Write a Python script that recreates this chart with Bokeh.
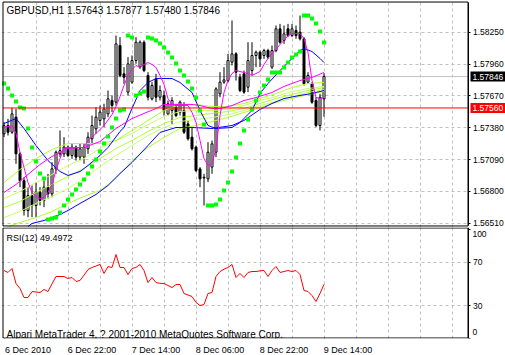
from bokeh.plotting import figure
from bokeh.layouts import column
from bokeh.models import Range1d, FixedTicker, NumeralTickFormatter, Label, Grid, LinearAxis
from bokeh.embed import file_html
from bokeh.resources import INLINE

FONT = "Liberation Sans"

opens = [1.57324,1.57400,1.57339,1.57476,1.57142,1.56899,1.56626,1.56762,1.56671,1.56793,
1.56717,1.56838,1.56778,1.57005,1.57142,1.57142,1.57203,1.57127,1.57203,1.57112,
1.57112,1.57188,1.57279,1.57370,1.57446,1.57461,1.57506,1.57628,1.57613,1.58129,
1.57871,1.57704,1.57795,1.57992,1.57932,1.58159,1.57856,1.57643,1.57825,1.57658,
1.57673,1.57506,1.57537,1.57567,1.57522,1.57537,1.57415,1.57294,1.57203,1.57005,
1.56929,1.56914,1.57021,1.57157,1.57689,1.57795,1.57810,1.57977,1.58053,1.57840,
1.57871,1.57749,1.57901,1.58038,1.58068,1.58038,1.58083,1.57932,1.58083,1.58281,
1.58175,1.58281,1.58220,1.58266,1.58250,1.58190,1.57795,1.57780,1.57628,1.57400,
1.57643]
highs = [1.57431,1.57461,1.57561,1.57552,1.57157,1.56929,1.56838,1.56854,1.56884,1.56838,
1.56899,1.56960,1.57066,1.57172,1.57355,1.57294,1.57218,1.57233,1.57218,1.57233,
1.57233,1.57339,1.57491,1.57567,1.57582,1.57598,1.57719,1.57673,1.58220,1.58205,
1.57932,1.58023,1.58038,1.58205,1.58175,1.58175,1.57886,1.57795,1.57871,1.57765,
1.57719,1.57628,1.57658,1.57598,1.57628,1.57613,1.57446,1.57385,1.57218,1.57021,
1.56960,1.57248,1.57263,1.57749,1.57886,1.57932,1.58053,1.58357,1.58068,1.57871,
1.57901,1.58159,1.58159,1.58083,1.58083,1.58099,1.58099,1.58129,1.58311,1.58326,
1.58311,1.58326,1.58326,1.58311,1.58402,1.58205,1.57886,1.57795,1.57658,1.57689,
1.57877]
lows = [1.57294,1.57309,1.57324,1.57051,1.56838,1.56580,1.56565,1.56565,1.56565,1.56671,
1.56656,1.56732,1.56747,1.56960,1.57112,1.57112,1.57112,1.57096,1.57081,1.57081,
1.57051,1.57142,1.57233,1.57324,1.57400,1.57385,1.57476,1.57522,1.57582,1.57840,
1.57780,1.57673,1.57780,1.57962,1.57916,1.57886,1.57628,1.57628,1.57613,1.57628,
1.57491,1.57491,1.57415,1.57476,1.57491,1.57324,1.57263,1.57172,1.56975,1.56838,
1.56671,1.56884,1.56960,1.57112,1.57658,1.57780,1.57795,1.57947,1.57810,1.57704,
1.57689,1.57704,1.57856,1.57932,1.57932,1.58007,1.58007,1.57916,1.58068,1.58144,
1.58144,1.58205,1.58205,1.58190,1.58175,1.57765,1.57780,1.57598,1.57385,1.57355,
1.57480]
closes = [1.57400,1.57339,1.57506,1.57142,1.56899,1.56626,1.56762,1.56671,1.56793,1.56717,
1.56838,1.56778,1.57005,1.57157,1.57172,1.57203,1.57127,1.57203,1.57112,1.57188,
1.57203,1.57294,1.57400,1.57476,1.57522,1.57552,1.57643,1.57582,1.58144,1.57856,
1.57840,1.57962,1.57992,1.58159,1.58159,1.57901,1.57658,1.57765,1.57658,1.57719,
1.57537,1.57598,1.57628,1.57491,1.57613,1.57339,1.57279,1.57188,1.56990,1.56914,
1.56923,1.57157,1.57233,1.57734,1.57795,1.57816,1.57992,1.58053,1.57886,1.57719,
1.57704,1.57992,1.58038,1.58068,1.58007,1.58083,1.58023,1.58083,1.58281,1.58159,
1.58235,1.58220,1.58281,1.58220,1.58190,1.57780,1.57856,1.57613,1.57400,1.57658,
1.57846]

ma_fast_idx = [0,2,3,4,5,6,7,8,9,10,11,12,13,14,15,16,18,20,21,23,25,27,28,29,30,31,32,33,34,35,
36,37,38,39,40,41,42,43,45,46,47,48,49,50,51,52,53,54,55,56,57,58,59,60,61,62,63,64,65,66,
67,68,69,70,71,72,73,74,75,76,77,78,79,80]
ma_fast = [1.57382,1.57400,1.57327,1.57154,1.57018,1.56881,1.56790,1.56753,1.56735,1.56744,
1.56790,1.56863,1.56990,1.57099,1.57191,1.57200,1.57200,1.57200,1.57264,1.57327,
1.57400,1.57500,1.57573,1.57664,1.57765,1.57856,1.57910,1.57947,1.57929,1.57956,
1.57974,1.57956,1.57929,1.57856,1.57774,1.57646,1.57592,1.57582,1.57582,1.57582,
1.57519,1.57428,1.57264,1.57099,1.57036,1.57054,1.57191,1.57492,1.57701,1.57810,
1.57874,1.57901,1.57892,1.57883,1.57874,1.57856,1.57874,1.57892,1.57956,1.58011,
1.58056,1.58093,1.58138,1.58175,1.58220,1.58238,1.58238,1.58238,1.58193,1.58065,
1.57810,1.57655,1.57646,1.57655]

ma_mid_idx = [0,3,6,9,12,16,20,24,28,32,35,38,40,43,47,49,52,54,57,60,63,67,70,74,77,80]
ma_mid = [1.56790,1.56863,1.56954,1.57045,1.57118,1.57191,1.57200,1.57254,1.57373,1.57464,
1.57510,1.57555,1.57592,1.57592,1.57592,1.57582,1.57555,1.57555,1.57582,1.57628,
1.57655,1.57701,1.57756,1.57810,1.57838,1.57883]

blue1_idx = [0,3,5,8,11,14,16,19,21,24,26,29,30,32,34,36,38,42,44,47,49,51,53,57,59,62,64,66,69,71,74,75,77,79,80]
blue1 = [1.57418,1.57464,1.57373,1.57218,1.57081,1.56981,1.56945,1.56981,1.57036,1.57127,
1.57200,1.57346,1.57382,1.57555,1.57719,1.57792,1.57828,1.57828,1.57792,1.57701,
1.57537,1.57400,1.57373,1.57382,1.57428,1.57537,1.57692,1.57783,1.57901,1.57974,
1.58084,1.58102,1.58074,1.58011,1.57974]

blue2_idx = [6,7,10,14,16,19,23,26,29,32,36,39,43,47,52,57,60,64,67,70,74,77,80]
blue2 = [1.56480,1.56508,1.56535,1.56590,1.56626,1.56690,1.56772,1.56854,1.56963,1.57063,
1.57218,1.57337,1.57382,1.57382,1.57373,1.57400,1.57446,1.57546,1.57601,1.57646,
1.57674,1.57692,1.57719]

green_idx = [0,4,8,12,16,20,24,28,32,36,40,44,48,52,56,60,64,68,72,76,80]
green_a = [1.56881,1.56999,1.57099,1.57182,1.57236,1.57236,1.57236,1.57264,1.57355,1.57446,
1.57537,1.57592,1.57592,1.57573,1.57573,1.57601,1.57646,1.57692,1.57746,1.57783,1.57792]
green_b = [1.56735,1.56799,1.56881,1.56954,1.57036,1.57099,1.57191,1.57264,1.57327,1.57409,
1.57482,1.57528,1.57537,1.57537,1.57546,1.57582,1.57628,1.57664,1.57710,1.57737,1.57756]
green_c = [1.56653,1.56708,1.56790,1.56863,1.56936,1.57008,1.57099,1.57191,1.57264,1.57346,
1.57418,1.57473,1.57492,1.57510,1.57528,1.57555,1.57601,1.57646,1.57683,1.57719,1.57746]
green_d = [1.56562,1.56617,1.56690,1.56754,1.56826,1.56917,1.57027,1.57127,1.57218,1.57309,
1.57382,1.57437,1.57455,1.57473,1.57500,1.57537,1.57582,1.57619,1.57664,1.57701,1.57728]
green_e = [1.56462,1.56517,1.56562,1.56617,1.56690,1.56754,1.56808,1.56917,1.57081,1.57200,
1.57291,1.57373,1.57400,1.57437,1.57473,1.57519,1.57564,1.57610,1.57646,1.57683,1.57710]

sar = [1.57783,1.57737,1.57674,1.57619,1.57564,1.57555,1.57373,1.57200,1.57072,1.56963,
1.56917,1.56544,1.56553,1.56562,1.56608,1.56671,1.56726,1.56772,1.56817,1.56863,
1.56908,1.56963,1.57026,1.57090,1.57163,1.57236,1.57300,1.57382,1.57464,1.57537,
1.57546,1.58220,1.58202,1.57674,1.57692,1.57710,1.58202,1.58193,1.58175,1.58147,
1.58111,1.58065,1.58020,1.57965,1.57901,1.57856,1.57801,1.57737,1.57655,1.57537,
1.57409,1.56671,1.56671,1.56681,1.56726,1.56808,1.56881,1.56981,1.57109,1.57236,
1.57355,1.57455,1.57546,1.57628,1.57701,1.57765,1.57819,1.57883,1.57883,1.57883,
1.57929,1.57974,1.58020,1.58047,1.58074,1.58402,1.58402,1.58375,1.58329,1.58257,
1.58156]

rsi = [62.3,60.5,64.2,50.3,45.7,37.4,37.4,42.9,42.5,42.0,
44.8,42.9,50.0,56.8,56.8,56.8,54.9,55.9,52.2,53.1,
58.0,63.2,65.1,66.5,67.9,59.6,66.0,65.1,77.1,65.1,
65.1,58.6,64.2,65.1,67.9,62.3,51.2,55.9,51.2,50.5,
50.3,48.5,46.6,49.4,49.4,41.1,39.7,38.3,32.8,30.0,
30.9,41.1,42.0,56.8,61.4,63.5,65.1,67.9,55.9,59.6,
55.9,60.5,61.4,61.4,62.0,62.3,56.8,62.3,66.0,60.5,
61.4,62.3,61.4,62.3,58.6,43.9,42.9,39.2,33.7,41.1,
49.4972]

price_ticks = [1.56510, 1.56800, 1.57090, 1.57380, 1.57670, 1.57960, 1.58250]
bid_price = 1.57846
hline_price = 1.57560
title_text = "GBPUSD,H1  1.57643 1.57877 1.57480 1.57846"
rsi_title = "RSI(12) 49.4972"
copyright_text = "Alpari MetaTrader 4, ? 2001-2010 MetaQuotes Software Corp."
time_ticks = [0, 16, 32, 48, 64, 80]
time_labels = ["6 Dec 2010", "6 Dec 22:00", "7 Dec 14:00", "8 Dec 06:00", "8 Dec 22:00", "9 Dec 14:00"]
vgrid_ticks = list(range(8, 116, 8))
rsi_ticks = [0, 30, 70, 100]

idx = list(range(len(opens)))
up = [i for i in idx if closes[i] >= opens[i]]
dn = [i for i in idx if closes[i] < opens[i]]

# layout constants (pixel geometry of the MT4 window)
X0, X1 = -0.625, 125.375      # frame spans the whole window width
XB_L, XB_R = -0.25, 116.0     # panel borders (left, right/price scale)
XLAB = 116.625                # start of price scale text
P_LO, P_HI = 1.56471, 1.58539
P_BOT, P_TOP = 1.56485, 1.58525
R_LO, R_HI = -0.46, 102.03
R_TOP = 101.57
LABEL_SHIFT = 6               # time labels start at their tick

GRID = "#c0c0c0"
DASH = "3 3"


def style_axis(ax, size="8.5px"):
    ax.major_tick_in = 0
    ax.major_tick_out = 2
    ax.minor_tick_in = 0
    ax.minor_tick_out = 0
    ax.axis_line_color = "black"
    ax.major_tick_line_color = "black"
    ax.major_label_text_font = FONT
    ax.major_label_text_font_size = size
    ax.major_label_text_color = "black"
    ax.major_label_standoff = 3


xr = Range1d(X0, X1)

# ---------------- main price panel ----------------
p = figure(frame_width=504, frame_height=227, x_range=xr, y_range=Range1d(P_LO, P_HI),
           output_backend="svg", toolbar_location=None, x_axis_location=None,
           y_axis_location="right", min_border_left=1, min_border_right=0,
           min_border_top=0, min_border_bottom=0, outline_line_color=None,
           background_fill_color="white", border_fill_color="white")
p.yaxis.ticker = FixedTicker(ticks=price_ticks)
p.yaxis.formatter = NumeralTickFormatter(format="0.00000")
p.yaxis.fixed_location = XB_R
p.yaxis.bounds = (P_BOT, P_TOP)
style_axis(p.yaxis[0])
p.ygrid.ticker = FixedTicker(ticks=price_ticks)
p.ygrid.grid_line_color = GRID
p.ygrid.grid_line_dash = DASH
p.xgrid.grid_line_color = None
p.add_layout(Grid(dimension=0, ticker=FixedTicker(ticks=vgrid_ticks),
                  grid_line_color=GRID, grid_line_dash=DASH))

# blank price-scale area
p.quad(left=XB_R + 0.125, right=X1, bottom=P_LO, top=P_HI, fill_color="white", line_color=None)

p.segment(x0=XB_L, x1=XB_R, y0=bid_price, y1=bid_price, line_color="#c0c0c0", line_width=1)

p.segment(x0=idx, y0=lows, x1=idx, y1=highs, line_color="black", line_width=1)
p.vbar(x=up, width=0.5, bottom=[opens[i] for i in up], top=[closes[i] for i in up],
       fill_color="white", line_color="black", line_width=1)
p.vbar(x=dn, width=0.5, bottom=[closes[i] for i in dn], top=[opens[i] for i in dn],
       fill_color="black", line_color="black", line_width=1)

for ys, col in [(green_e, "#adff2f"), (green_d, "#c8ff64"), (green_c, "#adff2f"),
                (green_b, "#c8ff64"), (green_a, "#adff2f")]:
    p.line(green_idx, ys, line_color=col, line_width=1)
p.line(blue2_idx, blue2, line_color="#0000ff", line_width=1)
p.line(blue1_idx, blue1, line_color="#0000ff", line_width=1)
p.line(ma_mid_idx, ma_mid, line_color="#ff00ff", line_width=1)
p.line(ma_fast_idx, ma_fast, line_color="#ff00ff", line_width=1)
p.scatter(idx, sar, marker="square", size=4, fill_color="#00ff00", line_color=None)

p.segment(x0=XB_L, x1=XB_R, y0=hline_price, y1=hline_price, line_color="#ff0000", line_width=1)

p.quad(left=XB_L, right=XB_R, bottom=P_BOT, top=P_TOP, fill_color=None,
       line_color="black", line_width=1)

p.add_layout(Label(x=5, y=222.5, x_units="screen", y_units="screen", text=title_text,
                   text_font=FONT, text_font_size="10px", text_color="black", text_baseline="top"))
p.add_layout(Label(x=XLAB, y=bid_price, text="1.57846", text_font=FONT,
                   text_font_size="8.5px", text_color="white", text_baseline="middle",
                   background_fill_color="black", padding=2))
p.add_layout(Label(x=XLAB, y=hline_price, text="1.57560", text_font=FONT,
                   text_font_size="8.5px", text_color="white", text_baseline="middle",
                   background_fill_color="#ff0000", padding=2))

# ---------------- RSI panel ----------------
r = figure(frame_width=504, frame_height=111, x_range=xr, y_range=Range1d(R_LO, R_HI),
           output_backend="svg", toolbar_location=None, y_axis_location="right",
           min_border_left=1, min_border_right=0, min_border_top=0, min_border_bottom=0,
           outline_line_color=None, background_fill_color="white", border_fill_color="white")
r.yaxis.ticker = FixedTicker(ticks=rsi_ticks)
r.yaxis.major_label_overrides = {0: "", 100: ""}
r.yaxis.fixed_location = XB_R
r.yaxis.bounds = (0, R_TOP)
style_axis(r.yaxis[0])

# time labels (left-aligned at their ticks) and the tick marks
r.xaxis.ticker = FixedTicker(ticks=[t + LABEL_SHIFT for t in time_ticks])
r.xaxis.major_label_overrides = {t + LABEL_SHIFT: l for t, l in zip(time_ticks, time_labels)}
style_axis(r.xaxis[0], size="9px")
r.xaxis.major_tick_out = 0
r.xaxis.axis_line_color = None
r.xaxis.major_label_standoff = 6
tick_axis = LinearAxis(fixed_location=0, ticker=FixedTicker(ticks=time_ticks),
                       major_label_overrides={t: "" for t in time_ticks},
                       major_label_text_font_size="0px", axis_line_color=None,
                       major_tick_out=4, major_tick_in=0, minor_tick_out=0, minor_tick_in=0,
                       major_tick_line_color="black")
r.add_layout(tick_axis, "below")

r.ygrid.ticker = FixedTicker(ticks=[30, 70])
r.ygrid.grid_line_color = GRID
r.ygrid.grid_line_dash = DASH
r.xgrid.ticker = FixedTicker(ticks=vgrid_ticks)
r.xgrid.grid_line_color = GRID
r.xgrid.grid_line_dash = DASH

r.quad(left=XB_R + 0.125, right=X1, bottom=R_LO, top=R_HI, fill_color="white", line_color=None)
r.line(idx, rsi, line_color="#ff0000", line_width=1)
r.quad(left=XB_L, right=XB_R, bottom=0, top=R_TOP, fill_color=None, line_color="black", line_width=1)

r.add_layout(Label(x=5, y=106, x_units="screen", y_units="screen", text=rsi_title,
                   text_font=FONT, text_font_size="9px", text_color="black", text_baseline="top"))
r.add_layout(Label(x=5, y=4.5, x_units="screen", y_units="screen", text=copyright_text,
                   text_font=FONT, text_font_size="10px", text_color="black", text_baseline="alphabetic"))
r.add_layout(Label(x=117.1, y=95.6, text="100", text_font=FONT, text_font_size="8.5px",
                   text_color="black", text_baseline="middle"))
r.add_layout(Label(x=117.1, y=6.0, text="0", text_font=FONT, text_font_size="8.5px",
                   text_color="black", text_baseline="middle"))

layout = column(p, r, spacing=0)
open("out.html", "w").write(file_html(layout, INLINE))
